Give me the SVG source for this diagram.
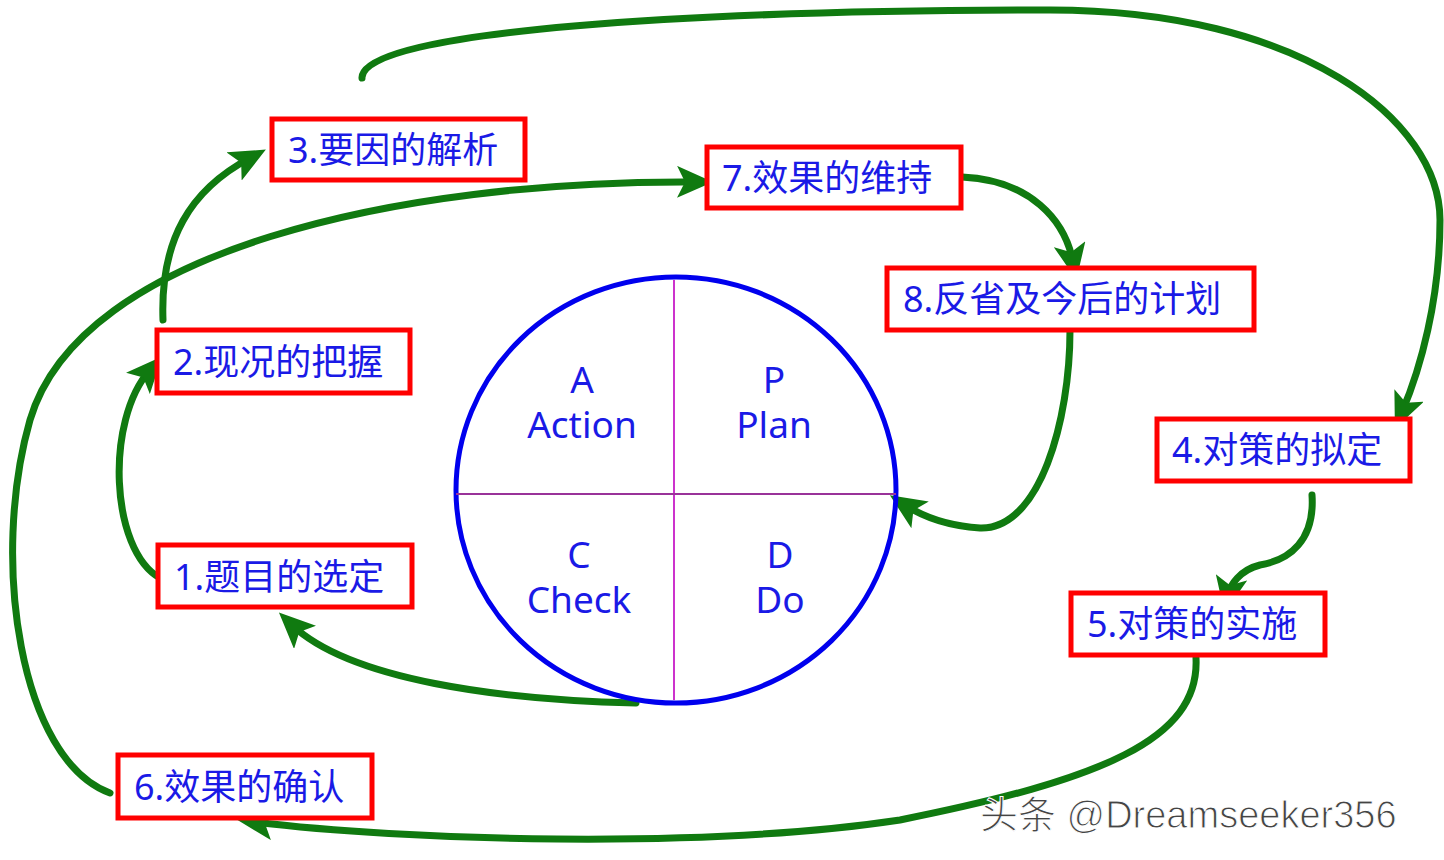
<svg xmlns="http://www.w3.org/2000/svg" width="1444" height="860" viewBox="0 0 1444 860">
<style>
.box{fill:#fff;stroke:#ff0000;stroke-width:5}
.t{font-family:"Noto Sans","Noto Sans CJK SC",sans-serif;font-size:36px;fill:#1a1ae6}
.c{font-family:"Noto Sans",sans-serif;font-size:37px;fill:#1a1ae6;text-anchor:middle}
.a{fill:none;stroke:#107a10;stroke-width:7;stroke-linecap:round;marker-end:url(#ah)}
</style>
<defs>
<marker id="ah" markerUnits="userSpaceOnUse" markerWidth="36" markerHeight="32" refX="18" refY="16" orient="auto" viewBox="0 0 36 32">
<path d="M0,0 L36,16 L0,32 L8,16 Z" fill="#107a10"/>
</marker>
</defs>
<rect width="1444" height="860" fill="#fff"/>
<g id="connectors">
<path class="a" d="M160,578 C110,550 105,420 150,370"/>
<path class="a" d="M163,320 C160,240 190,190 250,158"/>
<path class="a" d="M110,793 C20,760 -10,560 30,420 C80,250 400,180 695,182"/>
<path class="a" d="M362,78 C360,30 700,10 1050,10 C1300,10 1440,120 1440,220 C1440,300 1420,370 1402,412"/>
<path class="a" d="M962,177 C1030,180 1065,220 1073,262"/>
<path class="a" d="M1070,330 C1070,420 1040,530 980,528 C950,526 925,518 905,505"/>
<path class="a" d="M1312,495 C1315,540 1290,560 1260,565 C1240,570 1230,585 1228,595"/>
<path class="a" d="M1196,658 C1200,740 1100,780 900,820 C700,850 400,840 255,822"/>
<path class="a" d="M636,703 C500,700 350,680 292,625"/>
</g>
<g id="pdca">
<ellipse cx="676" cy="490" rx="220" ry="213" fill="none" stroke="#0000ee" stroke-width="5"/>
<line x1="674" y1="280" x2="674" y2="700" stroke="#cc33cc" stroke-width="2"/>
<line x1="456" y1="494" x2="896" y2="494" stroke="#993399" stroke-width="2"/>
<text class="c" x="582" y="393">A</text><text class="c" x="582" y="438">Action</text>
<text class="c" x="774" y="393">P</text><text class="c" x="774" y="438">Plan</text>
<text class="c" x="579" y="568">C</text><text class="c" x="579" y="613">Check</text>
<text class="c" x="780" y="568">D</text><text class="c" x="780" y="613">Do</text>
</g>
<g id="n3"><rect class="box" x="272" y="119" width="253" height="61"/><text class="t" x="288" y="163">3.要因的解析</text></g>
<g id="n7"><rect class="box" x="707" y="147" width="254" height="61"/><text class="t" x="722" y="191">7.效果的维持</text></g>
<g id="n8"><rect class="box" x="887" y="268" width="367" height="62"/><text class="t" x="903" y="312">8.反省及今后的计划</text></g>
<g id="n2"><rect class="box" x="157" y="330" width="253" height="63"/><text class="t" x="173" y="375">2.现况的把握</text></g>
<g id="n4"><rect class="box" x="1157" y="419" width="253" height="62"/><text class="t" x="1172" y="463">4.对策的拟定</text></g>
<g id="n1"><rect class="box" x="158" y="545" width="254" height="62"/><text class="t" x="174" y="590">1.题目的选定</text></g>
<g id="n5"><rect class="box" x="1071" y="593" width="254" height="62"/><text class="t" x="1087" y="637">5.对策的实施</text></g>
<g id="n6"><rect class="box" x="118" y="755" width="254" height="63"/><text class="t" x="134" y="800">6.效果的确认</text></g>
<text x="980" y="828" font-family="'Liberation Sans','Noto Sans CJK SC',sans-serif" font-size="38" fill="#444" stroke="#fff" stroke-width="1">头条 @Dreamseeker356</text>
</svg>
